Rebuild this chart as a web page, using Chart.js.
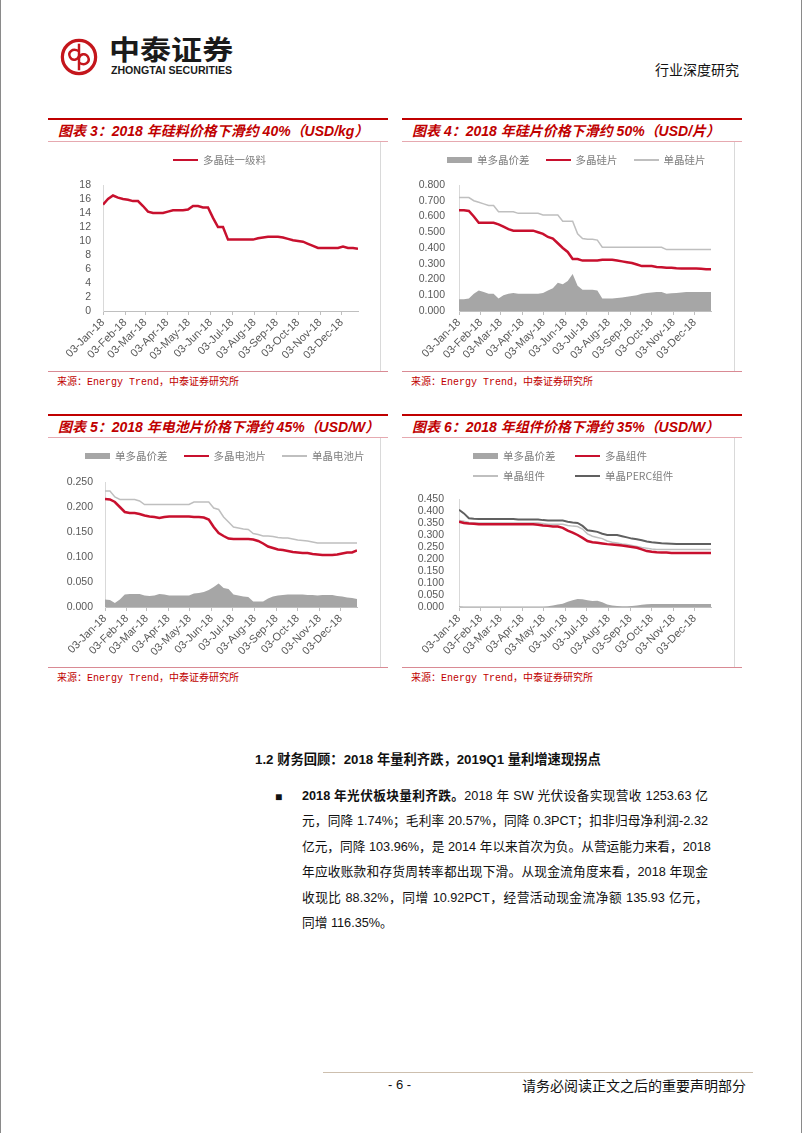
<!DOCTYPE html>
<html>
<head>
<meta charset="utf-8">
<script src="https://cdn.jsdelivr.net/npm/chart.js@4.4.1/dist/chart.umd.min.js"></script>
<style>
  body { margin: 0; background: #fff; }
  #page { position: relative; width: 802px; height: 1133px; overflow: hidden; background: #fff;
          font-family: "Liberation Sans", Arial, "Noto Sans CJK SC", sans-serif; }
  .abs { position: absolute; }
  .edge { position: absolute; top: 0; width: 1px; height: 1133px; background: #8a8a8a; }
  .redline { position: absolute; height: 2px; background: #c00000; }
  .pinkline { position: absolute; height: 1px; background: #e6a9b0; }
  .btmline { position: absolute; height: 1px; background: #d98a94; }
  .vline { position: absolute; width: 1px; background: #d9d9d9; }
  .title { position: absolute; font-size: 14px; font-weight: bold; font-style: italic; color: #c00000;
           white-space: nowrap; line-height: 16px; font-family: "Liberation Sans", Arial, "Noto Sans CJK SC", sans-serif; }
  .source { position: absolute; font-size: 10px; color: #c00000; white-space: nowrap; line-height: 12px;
            font-family: "Liberation Mono", "Noto Sans CJK SC", monospace; }
  .legend { position: absolute; display: flex; align-items: center; font-family: "Noto Sans CJK SC", sans-serif;
            font-size: 10.5px; color: #7f7f7f; white-space: nowrap; line-height: 14px; }
  .legend .item { display: flex; align-items: center; margin-right: 16px; }
  .legend .sw { display: inline-block; width: 25px; margin-right: 5px; }
  .grid2 { display: grid; grid-template-columns: 102px auto; row-gap: 6px; }
  canvas { position: absolute; }
  .para { position: absolute; left: 302px; width: 406px; font-size: 12.7px; color: #111; }
  .para div { height: 25.4px; line-height: 25.4px; white-space: nowrap; text-align: justify; text-align-last: justify; }
  .para div.last { text-align-last: left; }
</style>
</head>
<body>
<div id="page">
  <div class="edge" style="left:0"></div>
  <div class="edge" style="left:801px"></div>

  <!-- header -->
  <svg class="abs" style="left:60px;top:37px" width="38" height="40" viewBox="0 0 40 42">
    <circle cx="20" cy="21" r="17.5" fill="none" stroke="#c4161c" stroke-width="3.4"/>
    <path d="M20 7 V35" stroke="#c4161c" stroke-width="2.6"/>
    <path d="M20 15 C13 11 8 16 10.5 21 C13 26 19 24 20 20" fill="none" stroke="#c4161c" stroke-width="2.6"/>
    <path d="M20 27 C27 31 32 26 29.5 21 C27 16 21 18 20 22" fill="none" stroke="#c4161c" stroke-width="2.6"/>
  </svg>
  <div class="abs" style="left:109px;top:34px;font-family:'Noto Sans CJK SC';font-weight:bold;font-size:27px;line-height:30px;color:#1a1a1a;transform:scaleX(1.15);transform-origin:left top;white-space:nowrap">中泰证券</div>
  <div class="abs" style="left:111px;top:64px;font-weight:bold;font-size:10.6px;line-height:13px;color:#1a1a1a;white-space:nowrap">ZHONGTAI SECURITIES</div>
  <div class="abs" style="left:655px;top:60px;font-family:'Noto Sans CJK SC';font-size:14px;line-height:18px;color:#111;white-space:nowrap">行业深度研究</div>

  <!-- chart 3 frame -->
  <div class="redline" style="left:48px;top:118px;width:340px"></div>
  <div class="title" style="left:58px;top:123px">图表 3：2018 年硅料价格下滑约 40%（USD/kg）</div>
  <div class="pinkline" style="left:48px;top:141px;width:340px"></div>
  <div class="vline" style="left:380px;top:142px;height:229px"></div>
  <div class="btmline" style="left:48px;top:371px;width:340px"></div>
  <div class="source" style="left:57px;top:377px">来源：Energy Trend，中泰证券研究所</div>
  <canvas id="c3" width="332" height="227" style="left:48px;top:143px"></canvas>
  <div class="legend" id="lg3" style="left:173px;top:153px"></div>

  <!-- chart 4 frame -->
  <div class="redline" style="left:402px;top:118px;width:340px"></div>
  <div class="title" style="left:412px;top:123px">图表 4：2018 年硅片价格下滑约 50%（USD/片）</div>
  <div class="pinkline" style="left:402px;top:141px;width:340px"></div>
  <div class="vline" style="left:734px;top:142px;height:229px"></div>
  <div class="btmline" style="left:402px;top:371px;width:340px"></div>
  <div class="source" style="left:411px;top:377px">来源：Energy Trend，中泰证券研究所</div>
  <canvas id="c4" width="332" height="227" style="left:402px;top:143px"></canvas>
  <div class="legend" id="lg4" style="left:447px;top:153px"></div>

  <!-- chart 5 frame -->
  <div class="redline" style="left:48px;top:414px;width:340px"></div>
  <div class="title" style="left:58px;top:419px">图表 5：2018 年电池片价格下滑约 45%（USD/W）</div>
  <div class="pinkline" style="left:48px;top:437px;width:340px"></div>
  <div class="vline" style="left:380px;top:438px;height:229px"></div>
  <div class="btmline" style="left:48px;top:667px;width:340px"></div>
  <div class="source" style="left:57px;top:673px">来源：Energy Trend，中泰证券研究所</div>
  <canvas id="c5" width="332" height="227" style="left:48px;top:439px"></canvas>
  <div class="legend" id="lg5" style="left:85px;top:449px"></div>

  <!-- chart 6 frame -->
  <div class="redline" style="left:402px;top:414px;width:340px"></div>
  <div class="title" style="left:412px;top:419px">图表 6：2018 年组件价格下滑约 35%（USD/W）</div>
  <div class="pinkline" style="left:402px;top:437px;width:340px"></div>
  <div class="vline" style="left:734px;top:438px;height:229px"></div>
  <div class="btmline" style="left:402px;top:667px;width:340px"></div>
  <div class="source" style="left:411px;top:673px">来源：Energy Trend，中泰证券研究所</div>
  <canvas id="c6" width="332" height="227" style="left:402px;top:439px"></canvas>
  <div class="legend grid2" id="lg6" style="left:473px;top:449px"></div>

  <!-- text -->
  <div class="abs" style="left:255px;top:751px;font-size:13.3px;font-weight:bold;line-height:18px;color:#111;white-space:nowrap">1.2 财务回顾：2018 年量利齐跌，2019Q1 量利增速现拐点</div>
  <div class="abs" style="left:275px;top:786px;font-size:12px;line-height:22px;color:#111">■</div>
  <div class="para" style="top:784px">
    <div><b>2018 年光伏板块量利齐跌。</b>2018 年 SW 光伏设备实现营收 1253.63 亿</div>
    <div>元，同降 1.74%；毛利率 20.57%，同降 0.3PCT；扣非归母净利润-2.32</div>
    <div>亿元，同降 103.96%，是 2014 年以来首次为负。从营运能力来看，2018</div>
    <div>年应收账款和存货周转率都出现下滑。从现金流角度来看，2018 年现金</div>
    <div>收现比 88.32%，同增 10.92PCT，经营活动现金流净额 135.93 亿元，</div>
    <div class="last">同增 116.35%。</div>
  </div>

  <!-- footer -->
  <div class="abs" style="left:323px;top:1072px;width:430px;height:1px;background:#cdbfae"></div>
  <div class="abs" style="left:388px;top:1077px;font-size:13px;line-height:16px;color:#111;white-space:nowrap">- 6 -</div>
  <div class="abs" style="left:522px;top:1076px;font-family:'Noto Sans CJK SC';font-size:14px;line-height:18px;color:#111;white-space:nowrap">请务必阅读正文之后的重要声明部分</div>
</div>

<script>
// weekly dates (Wednesdays) used by all four charts
const weeks = [
  '2018-01-03','2018-01-10','2018-01-17','2018-01-24','2018-01-31','2018-02-07','2018-02-14','2018-02-21',
  '2018-02-28','2018-03-07','2018-03-14','2018-03-21','2018-03-28','2018-04-04','2018-04-11','2018-04-18',
  '2018-04-25','2018-05-02','2018-05-09','2018-05-16','2018-05-23','2018-05-30','2018-06-06','2018-06-13',
  '2018-06-20','2018-06-27','2018-07-04','2018-07-11','2018-07-18','2018-07-25','2018-08-01','2018-08-08',
  '2018-08-15','2018-08-22','2018-08-29','2018-09-05','2018-09-12','2018-09-19','2018-09-26','2018-10-03',
  '2018-10-10','2018-10-17','2018-10-24','2018-10-31','2018-11-07','2018-11-14','2018-11-21','2018-11-28',
  '2018-12-05','2018-12-12','2018-12-19','2018-12-26'
];
const monthTicks = ['2018-01-03','2018-02-03','2018-03-03','2018-04-03','2018-05-03','2018-06-03',
  '2018-07-03','2018-08-03','2018-09-03','2018-10-03','2018-11-03','2018-12-03'];
const monthLabels = ['03-Jan-18','03-Feb-18','03-Mar-18','03-Apr-18','03-May-18','03-Jun-18',
  '03-Jul-18','03-Aug-18','03-Sep-18','03-Oct-18','03-Nov-18','03-Dec-18'];

// chart 3: polysilicon (USD/kg)
const polySilicon = [15.2,16.0,16.5,16.2,16.0,15.9,15.7,15.7,15.0,14.2,14.0,14.0,14.0,14.2,14.4,14.4,
  14.4,14.5,15.0,15.0,14.8,14.8,13.3,12.0,12.0,10.2,10.2,10.2,10.2,10.2,10.2,10.4,
  10.5,10.6,10.6,10.6,10.5,10.3,10.1,10.0,9.9,9.6,9.3,9.0,9.0,9.0,9.0,9.0,
  9.2,9.0,9.0,8.9];

// chart 4: wafers (USD/piece)
const waferSpread = [0.075,0.075,0.08,0.11,0.13,0.12,0.11,0.11,0.08,0.10,0.11,0.115,0.11,0.11,0.11,0.11,
  0.11,0.115,0.13,0.145,0.18,0.17,0.19,0.235,0.16,0.135,0.135,0.135,0.13,0.08,0.08,0.08,
  0.082,0.085,0.09,0.095,0.10,0.11,0.115,0.118,0.12,0.12,0.11,0.112,0.115,0.118,0.12,0.12,
  0.12,0.12,0.12,0.12];
const waferMulti = [0.64,0.64,0.635,0.60,0.56,0.56,0.56,0.56,0.55,0.535,0.52,0.51,0.51,0.51,0.51,0.51,
  0.50,0.49,0.47,0.46,0.43,0.40,0.375,0.33,0.33,0.32,0.32,0.32,0.32,0.325,0.325,0.325,
  0.32,0.315,0.31,0.305,0.295,0.285,0.285,0.285,0.28,0.278,0.275,0.275,0.272,0.27,0.27,0.27,
  0.27,0.268,0.265,0.265];
const waferMono = [0.72,0.72,0.72,0.70,0.69,0.68,0.67,0.67,0.63,0.63,0.63,0.63,0.62,0.62,0.62,0.62,
  0.62,0.61,0.61,0.61,0.61,0.57,0.57,0.57,0.49,0.46,0.455,0.455,0.45,0.405,0.405,0.405,
  0.405,0.405,0.405,0.405,0.405,0.405,0.405,0.405,0.405,0.405,0.39,0.39,0.39,0.39,0.39,0.39,
  0.39,0.39,0.39,0.39];

// chart 5: cells (USD/W)
const cellSpread = [0.015,0.014,0.008,0.015,0.025,0.026,0.026,0.026,0.023,0.022,0.023,0.026,0.025,0.023,0.023,0.023,
  0.023,0.023,0.027,0.028,0.030,0.034,0.040,0.047,0.038,0.036,0.025,0.023,0.021,0.020,0.011,0.011,
  0.011,0.017,0.021,0.023,0.024,0.025,0.025,0.025,0.025,0.024,0.024,0.023,0.024,0.024,0.024,0.022,
  0.021,0.019,0.018,0.016];
const cellMulti = [0.216,0.215,0.210,0.200,0.190,0.188,0.188,0.186,0.183,0.181,0.180,0.178,0.180,0.181,0.181,0.181,
  0.181,0.181,0.180,0.180,0.179,0.175,0.160,0.148,0.142,0.137,0.136,0.136,0.136,0.136,0.135,0.132,
  0.127,0.121,0.118,0.115,0.114,0.112,0.110,0.109,0.108,0.108,0.106,0.105,0.104,0.104,0.104,0.105,
  0.107,0.109,0.109,0.113];
const cellMono = [0.232,0.232,0.220,0.215,0.215,0.215,0.215,0.212,0.205,0.205,0.205,0.205,0.205,0.205,0.205,0.205,
  0.205,0.205,0.210,0.210,0.210,0.210,0.198,0.195,0.180,0.170,0.160,0.158,0.156,0.155,0.147,0.145,
  0.142,0.142,0.141,0.139,0.138,0.138,0.136,0.134,0.133,0.132,0.130,0.128,0.128,0.128,0.128,0.128,
  0.128,0.128,0.128,0.128];

// chart 6: modules (USD/W)
const moduleSpread = [0.003,0.002,0.002,0.002,0.002,0.002,0.002,0.002,0.002,0.002,0.002,0.002,0.002,0.002,0.002,0.002,
  0.002,0.002,0.003,0.006,0.010,0.014,0.022,0.028,0.033,0.032,0.028,0.025,0.026,0.020,0.010,0.006,
  0.004,0.003,0.003,0.004,0.006,0.009,0.011,0.012,0.012,0.012,0.012,0.012,0.012,0.012,0.012,0.012,
  0.012,0.012,0.012,0.012];
const moduleMulti = [0.355,0.350,0.348,0.347,0.345,0.345,0.345,0.345,0.345,0.345,0.345,0.345,0.345,0.345,0.345,0.345,
  0.343,0.340,0.338,0.335,0.335,0.330,0.318,0.310,0.300,0.288,0.275,0.270,0.268,0.265,0.262,0.260,
  0.258,0.256,0.253,0.250,0.247,0.240,0.233,0.230,0.228,0.227,0.227,0.225,0.225,0.225,0.225,0.225,
  0.225,0.225,0.225,0.225];
const moduleMono = [0.360,0.357,0.352,0.350,0.350,0.350,0.350,0.350,0.350,0.350,0.350,0.350,0.350,0.350,0.350,0.350,
  0.350,0.348,0.345,0.345,0.345,0.345,0.340,0.337,0.335,0.325,0.305,0.295,0.290,0.285,0.275,0.270,
  0.267,0.263,0.260,0.256,0.252,0.248,0.245,0.242,0.240,0.240,0.240,0.240,0.240,0.240,0.240,0.240,
  0.240,0.240,0.240,0.240];
const modulePerc = [0.405,0.390,0.370,0.368,0.367,0.367,0.367,0.367,0.367,0.367,0.367,0.367,0.365,0.365,0.365,0.365,
  0.365,0.362,0.360,0.360,0.360,0.360,0.355,0.352,0.350,0.338,0.320,0.317,0.313,0.305,0.300,0.300,
  0.300,0.295,0.290,0.285,0.282,0.278,0.273,0.270,0.268,0.266,0.265,0.264,0.263,0.263,0.263,0.263,
  0.263,0.263,0.263,0.263];

const RED = '#c8102e', LIGHT = '#bfbfbf', DARK = '#606060', AREA = '#a6a6a6';

function dayOf(d) {
    return (Date.parse(d) - Date.parse(weeks[0])) / 86400000;
}

function points(vals) {
    return vals.map((v, i) => ({ x: dayOf(weeks[i]), y: v }));
}

function area(label, vals) {
    return { label: label, data: points(vals), kind: 'area', fill: 'origin', backgroundColor: AREA,
             borderWidth: 0, pointRadius: 0, order: 5 };
}

function line(label, vals, color, width) {
    return { label: label, data: points(vals), kind: 'line', fill: false, borderColor: color,
             borderWidth: width, pointRadius: 0, tension: 0, order: 1 };
}

// html legend built from the datasets
function buildLegend(id, datasets) {
    const box = document.getElementById(id);
    datasets.forEach(ds => {
        const item = document.createElement('div');
        item.className = 'item';
        const sw = document.createElement('span');
        sw.className = 'sw';
        if (ds.kind === 'area') {
            sw.style.height = '6px';
            sw.style.background = ds.backgroundColor;
        } else {
            sw.style.height = ds.borderWidth + 'px';
            sw.style.background = ds.borderColor;
        }
        const txt = document.createElement('span');
        txt.textContent = ds.label;
        item.appendChild(sw);
        item.appendChild(txt);
        box.appendChild(item);
    });
}

function makeChart(id, datasets, yMax, yStep, decimals, g) {
    const ctx = document.getElementById(id).getContext('2d');
    return new Chart(ctx, {
        type: 'line',
        data: { datasets: datasets },
        options: {
            responsive: false,
            animation: false,
            layout: { padding: { top: g.top, right: g.right, left: 0, bottom: 0 } },
            plugins: { legend: { display: false }, tooltip: { enabled: false } },
            scales: {
                x: {
                    type: 'linear',
                    min: 0,
                    max: dayOf(weeks[weeks.length - 1]),
                    afterBuildTicks: s => { s.ticks = monthTicks.map(d => ({ value: dayOf(d) })); },
                    afterFit: s => { s.height = g.xHeight; },
                    ticks: {
                        autoSkip: false, minRotation: 45, maxRotation: 45, padding: 1,
                        color: '#595959', font: { size: 11 },
                        callback: (v, i) => monthLabels[i]
                    },
                    grid: { drawOnChartArea: false, drawTicks: true, tickLength: 4, color: '#bfbfbf' },
                    border: { color: '#bfbfbf' }
                },
                y: {
                    min: 0,
                    max: yMax,
                    afterFit: s => { s.width = g.yWidth; },
                    ticks: {
                        autoSkip: false, stepSize: yStep, padding: g.labelPad, color: '#595959', font: { size: 10.5 },
                        callback: v => v.toFixed(decimals)
                    },
                    grid: { drawOnChartArea: false, drawTicks: false },
                    border: { color: '#d9d9d9' }
                }
            }
        }
    });
}

Chart.defaults.font.family = '"Liberation Sans", Arial, sans-serif';

const ds3 = [line('多晶硅一级料', polySilicon, RED, 2.5)];
const ds4 = [area('单多晶价差', waferSpread), line('多晶硅片', waferMulti, RED, 2.5), line('单晶硅片', waferMono, LIGHT, 1.5)];
const ds5 = [area('单多晶价差', cellSpread), line('多晶电池片', cellMulti, RED, 2.5), line('单晶电池片', cellMono, LIGHT, 1.5)];
const ds6 = [area('单多晶价差', moduleSpread), line('多晶组件', moduleMulti, RED, 2.5),
             line('单晶组件', moduleMono, LIGHT, 1.5), line('单晶PERC组件', modulePerc, DARK, 2)];

makeChart('c3', ds3, 18, 2, 0, { top: 42, right: 22, yWidth: 55, xHeight: 59, labelPad: 12 });
makeChart('c4', ds4, 0.8, 0.1, 3, { top: 42, right: 23, yWidth: 57, xHeight: 59, labelPad: 14 });
makeChart('c5', ds5, 0.25, 0.05, 3, { top: 43, right: 23, yWidth: 57, xHeight: 59, labelPad: 12 });
makeChart('c6', ds6, 0.45, 0.05, 3, { top: 60, right: 23, yWidth: 57, xHeight: 59, labelPad: 15 });

buildLegend('lg3', ds3);
buildLegend('lg4', ds4);
buildLegend('lg5', ds5);
buildLegend('lg6', ds6);
</script>
</body>
</html>
